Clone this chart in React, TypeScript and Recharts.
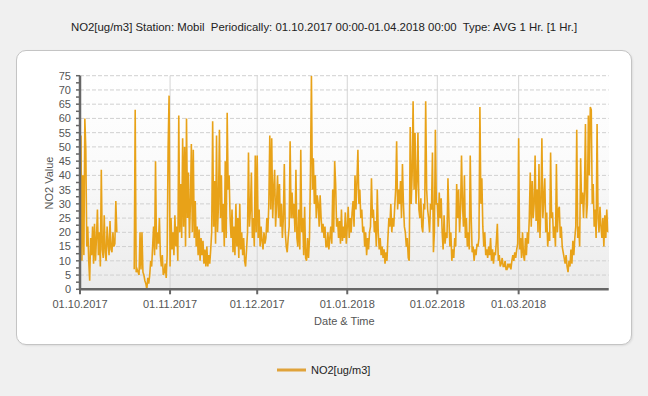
import React from 'react';
import { LineChart, Line, XAxis, YAxis, CartesianGrid } from 'recharts';

const TITLE = 'NO2[ug/m3] Station: Mobil  Periodically: 01.10.2017 00:00-01.04.2018 00:00  Type: AVG 1 Hr. [1 Hr.]';
const SERIES_NAME = 'NO2[ug/m3]';
const X_LABEL = 'Date & Time';
const Y_LABEL = 'NO2 Value';

// month start (day offset from 01.10.2017) and labels
const MONTH_START_DAYS = [0, 31, 61, 92, 123, 151];
const MONTH_LABELS = ['01.10.2017', '01.11.2017', '01.12.2017', '01.01.2018', '01.02.2018', '01.03.2018'];
const Y_TICKS = [0, 5, 10, 15, 20, 25, 30, 35, 40, 45, 50, 55, 60, 65, 70, 75];
const Y_MINOR_TICKS = [0, 2.5, 5, 7.5, 10, 12.5, 15, 17.5, 20, 22.5, 25, 27.5, 30, 32.5, 35, 37.5, 40, 42.5, 45, 47.5, 50, 52.5, 55, 57.5, 60, 62.5, 65, 67.5, 70, 72.5, 75];
const TOTAL_DAYS = 182;

// values every 8 hours (3 per day)
const OCT = [
  3, 54, 10, 40, 12, 60, 49, 15, 22, 10, 3, 18, 12, 22, 9, 23, 10, 18, 28, 12, 20, 8, 42, 14,
  11, 26, 13, 10, 22, 16, 12, 24, 14, 13, 20, 15, 16, 31, 20,
  null, null, null, null, null, null, null, null, null, null, null, null, null, null, null,
  null, null, 7,
  63, 6, 7, 6, 5, 20, 7, 20, 6, 5, 3, 2, 0, 4, 2, 5, 10, 8, 15, 22, 12, 45, 14, 20, 16, 25, 12,
  8, 12, 5, 6, 9, 4, 12, 50, 68,
];
const NOV = [
  8, 25, 14, 20, 12, 26, 15, 22, 10, 61, 20, 37, 18, 53, 22, 50, 15, 60, 25, 41, 18, 30, 51, 20,
  49, 18, 31, 15, 22, 12, 21, 10, 18, 12, 17, 9, 14, 8, 15, 8, 12, 9, 14, 20, 59, 22, 38, 16,
  54, 20, 30, 56, 25, 40, 20, 30, 15, 45, 18, 62, 35, 40, 25, 18, 28, 13, 22, 12, 30, 15, 25, 11,
  30, 14, 20, 12, 18, 10, 8, 14, 20, 48, 22, 28, 41, 18, 25, 15, 47, 20,
];
const DEC = [
  47, 18, 28, 15, 22, 17, 14, 20, 16, 18, 25, 20, 30, 54, 28, 53, 25, 35, 42, 22, 30, 40, 25, 37,
  22, 30, 18, 25, 44, 20, 15, 13, 18, 22, 52, 25, 34, 25, 30, 20, 42, 18, 15, 28, 14, 49, 20, 25,
  12, 29, 11, 10, 18, 11, 18, 41, 75, 35, 46, 30, 40, 25, 33, 30, 22, 33, 25, 20, 23, 18, 22, 15,
  15, 20, 14, 18, 22, 16, 35, 20, 45, 37, 22, 25, 18, 24, 16, 28, 17, 22, 18, 27, 16,
];
const JAN = [
  22, 29, 18, 25, 20, 27, 31, 22, 40, 28, 38, 49, 30, 35, 25, 28, 20, 22, 15, 20, 12, 18, 14, 20,
  22, 39, 25, 28, 20, 24, 15, 35, 20, 14, 18, 12, 15, 11, 14, 9, 13, 10, 18, 25, 22, 30, 20, 25,
  22, 29, 35, 52, 28, 35, 30, 38, 25, 44, 30, 22, 20, 15, 18, 11, 10, 57, 30, 40, 66, 35, 55, 30,
  38, 55, 28, 25, 32, 22, 20, 30, 28, 66, 35, 28, 25, 20, 30, 28, 48, 13, 20, 56, 30,
];
const FEB = [
  30, 22, 34, 25, 32, 20, 14, 26, 16, 20, 18, 39, 25, 15, 20, 10, 14, 11, 18, 15, 37, 25, 35, 20,
  28, 47, 30, 22, 40, 18, 25, 15, 20, 14, 47, 25, 13, 15, 10, 14, 12, 16, 15, 18, 64, 30, 39, 22,
  15, 20, 12, 14, 11, 15, 12, 18, 10, 14, 9, 13, 12, 17, 23, 10, 12, 8, 9, 11, 8, 8, 10, 7,
  7, 9, 8, 9, 7, 10, 12, 10, 13, 11, 14, 16,
];
const MAR = [
  53, 14, 18, 11, 20, 12, 10, 18, 12, 20, 16, 25, 41, 22, 38, 25, 30, 47, 24, 35, 20, 44, 18, 30,
  53, 25, 32, 39, 20, 27, 15, 20, 17, 48, 25, 27, 18, 22, 15, 44, 20, 28, 29, 18, 22, 15, 13, 11,
  9, 12, 8, 6, 10, 8, 14, 9, 17, 12, 18, 22, 56, 18, 22, 15, 46, 30, 34, 25, 35, 58, 25, 30,
  61, 40, 64, 63, 30, 37, 22, 28, 18, 58, 25, 20, 29, 22, 18, 25, 15, 26, 18, 28, 20,
];

const MONTHS = [OCT, NOV, DEC, JAN, FEB, MAR];
const data = MONTHS.flatMap((arr, m) =>
  arr.map((v, i) => ({ t: MONTH_START_DAYS[m] + i / 3, no2: v }))
);

const LINE_COLOR = '#e8a218';
const FONT = '"Liberation Sans", Arial, sans-serif';

const PLOT_LEFT = 80;
const PLOT_TOP = 75.7;
const PLOT_RIGHT = 608.7;
const PLOT_BOTTOM = 289.3;

export default function App() {
  const tickStyle = { fontSize: 11, fill: '#555', fontFamily: FONT };
  return (
    <div style={{ position: 'absolute', left: 0, top: 0, width: 648, height: 396, background: '#f0f0f0', overflow: 'hidden', fontFamily: FONT }}>
      <div style={{ position: 'absolute', left: 0, top: 20, width: 648, textAlign: 'center', fontSize: 11.4, color: '#222', whiteSpace: 'pre', lineHeight: '14px' }}>{TITLE}</div>
      <div style={{ position: 'absolute', left: 16, top: 50, width: 614, height: 293, background: '#fff', border: '1.5px solid #c4c4c4', borderRadius: 10, boxShadow: '1px 1px 2px rgba(0,0,0,0.08)' }} />
      <div style={{ position: 'absolute', left: PLOT_LEFT, top: PLOT_TOP, width: PLOT_RIGHT - PLOT_LEFT, height: PLOT_BOTTOM - PLOT_TOP, background: 'linear-gradient(#ffffff 0%, #fbfbfb 40%, #ebebeb 100%)' }} />
      <div style={{ position: 'absolute', left: 30, top: 183, width: 0, height: 0 }}>
        <div style={{ position: 'absolute', left: 0, top: 0, transform: 'translate(-50%, -50%) rotate(-90deg)', transformOrigin: 'center', fontSize: 11, color: '#555', whiteSpace: 'nowrap', marginLeft: 18.5 }}>{Y_LABEL}</div>
      </div>
      <div style={{ position: 'absolute', left: PLOT_LEFT, top: 314, width: PLOT_RIGHT - PLOT_LEFT, textAlign: 'center', fontSize: 11, color: '#555', lineHeight: '14px' }}>{X_LABEL}</div>
      <div style={{ position: 'absolute', left: 0, top: 0 }}>
        <LineChart width={648} height={396} data={data} margin={{ top: PLOT_TOP, right: 648 - PLOT_RIGHT, bottom: 396 - PLOT_BOTTOM - 30, left: 0 }}>
          <CartesianGrid horizontal={true} vertical={false} stroke="#d0d0d0" strokeDasharray="4 2" horizontalValues={Y_TICKS} />
          <CartesianGrid horizontal={false} vertical={true} stroke="#d4d4d4" verticalValues={MONTH_START_DAYS} />
          <XAxis
            dataKey="t"
            type="number"
            domain={[0, TOTAL_DAYS]}
            ticks={MONTH_START_DAYS}
            tickFormatter={(v) => MONTH_LABELS[MONTH_START_DAYS.indexOf(v)] ?? ''}
            height={30}
            tick={tickStyle}
            tickSize={5}
            tickMargin={6}
            stroke="#666"
            strokeWidth={2}
            tickLine={{ stroke: '#666', strokeWidth: 2 }}
            axisLine={{ stroke: '#666', strokeWidth: 2.5 }}
            allowDataOverflow
            interval={0}
          />
          <YAxis
            type="number"
            domain={[0, 75]}
            ticks={Y_MINOR_TICKS}
            tickFormatter={(v) => (Y_TICKS.includes(v) ? String(v) : '')}
            width={PLOT_LEFT}
            tick={tickStyle}
            tickSize={4}
            tickMargin={5}
            tickLine={{ stroke: '#666', strokeWidth: 1.5 }}
            axisLine={{ stroke: '#666', strokeWidth: 2.5 }}
            interval={0}
            allowDataOverflow
          />
          <Line
            type="linear"
            dataKey="no2"
            stroke={LINE_COLOR}
            strokeWidth={1.6}
            dot={false}
            activeDot={false}
            connectNulls={false}
            isAnimationActive={false}
          />
        </LineChart>
      </div>
      <div style={{ position: 'absolute', left: 277, top: 363, height: 14, display: 'flex', alignItems: 'center' }}>
        <svg width={29} height={14}><line x1={0} y1={7} x2={29} y2={7} stroke="#e0a33a" strokeWidth={3} /></svg>
        <span style={{ marginLeft: 5, fontSize: 11, color: '#222' }}>{SERIES_NAME}</span>
      </div>
    </div>
  );
}
